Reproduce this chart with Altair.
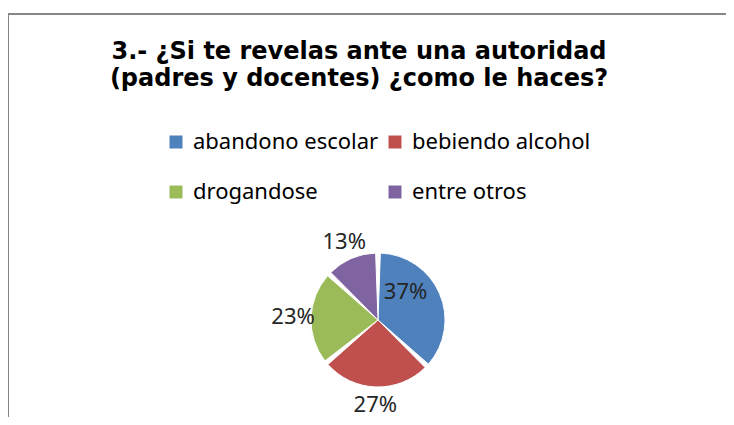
import altair as alt
import pandas as pd

categories = ["abandono escolar", "bebiendo alcohol", "drogandose", "entre otros"]
values = [37, 27, 23, 13]
colors = ["#4F81BD", "#C0504D", "#9BBB59", "#8064A2"]
legend_order = ["abandono escolar", "drogandose", "bebiendo alcohol", "entre otros"]
title_lines = ["3.- ¿Si te revelas ante una autoridad", "(padres y docentes) ¿como le haces?"]

df = pd.DataFrame({"categoria": categories, "valor": values, "orden": list(range(len(values)))})

CX, CY = 370, 202
theta_scale = alt.Scale(domain=[0, 100], range=[0, 6.283185307179586])

base = (
    alt.Chart(df)
    .transform_window(cum="sum(valor)", sort=[alt.SortField("orden", order="ascending")], frame=[None, 0])
    .transform_calculate(start="datum.cum - datum.valor", mid="datum.cum - datum.valor / 2",
                         label="datum.valor + '%'")
)

arcs = base.mark_arc(outerRadius=67, padAngle=0.07, stroke="white", strokeWidth=1).encode(
    theta=alt.Theta("start:Q", scale=theta_scale, stack=False),
    theta2="cum:Q",
    color=alt.Color(
        "categoria:N",
        scale=alt.Scale(domain=categories, range=colors),
        legend=alt.Legend(
            title=None, orient="none", legendX=157, legendY=13, columns=2,
            values=legend_order,
            symbolType="square", symbolSize=169, symbolStrokeWidth=0,
            labelFontSize=22, labelFont="Noto Sans", labelColor="#000000",
            labelLimit=400, columnPadding=5, rowPadding=28, symbolOffset=0, labelOffset=6,
        ),
    ),
    x=alt.value(CX),
    y=alt.value(CY),
)

outer_labels = base.transform_filter("datum.orden > 0").mark_text(
    radius=85, fontSize=22, font="Noto Sans", color="#262626"
).encode(
    theta=alt.Theta("mid:Q", scale=theta_scale, stack=False),
    text="label:N",
    x=alt.value(CX),
    y=alt.value(CY),
)

inner_label = base.transform_filter("datum.orden == 0").mark_text(
    radius=30, dy=-16, fontSize=22, font="Noto Sans", color="#262626"
).encode(
    theta=alt.Theta("mid:Q", scale=theta_scale, stack=False),
    text="label:N",
    x=alt.value(CX),
    y=alt.value(CY),
)

top_border = alt.Chart(df).mark_rule(color="#868686", strokeWidth=2).encode(
    x=alt.value(0), x2=alt.value(740), y=alt.value(-104)
)
left_border = alt.Chart(df).mark_rule(color="#868686", strokeWidth=2).encode(
    x=alt.value(0), y=alt.value(-104), y2=alt.value(320)
)

chart = (
    alt.layer(top_border, left_border, arcs, outer_labels, inner_label)
    .properties(
        width=718,
        height=299,
        padding={"left": 0, "top": 110, "right": 0, "bottom": 0},
        autosize=alt.AutoSizeParams(type="none"),
        title=alt.TitleParams(
            text=title_lines, fontSize=24, font="DejaVu Sans", fontWeight="bold",
            color="#000000", anchor="middle", frame="group", dx=-8, offset=14, lineHeight=27,
            baseline="alphabetic", dy=111,
        ),
    )
    .configure_view(stroke=None)
)

chart.save("out.html", embed_options={"renderer": "svg", "actions": False})
